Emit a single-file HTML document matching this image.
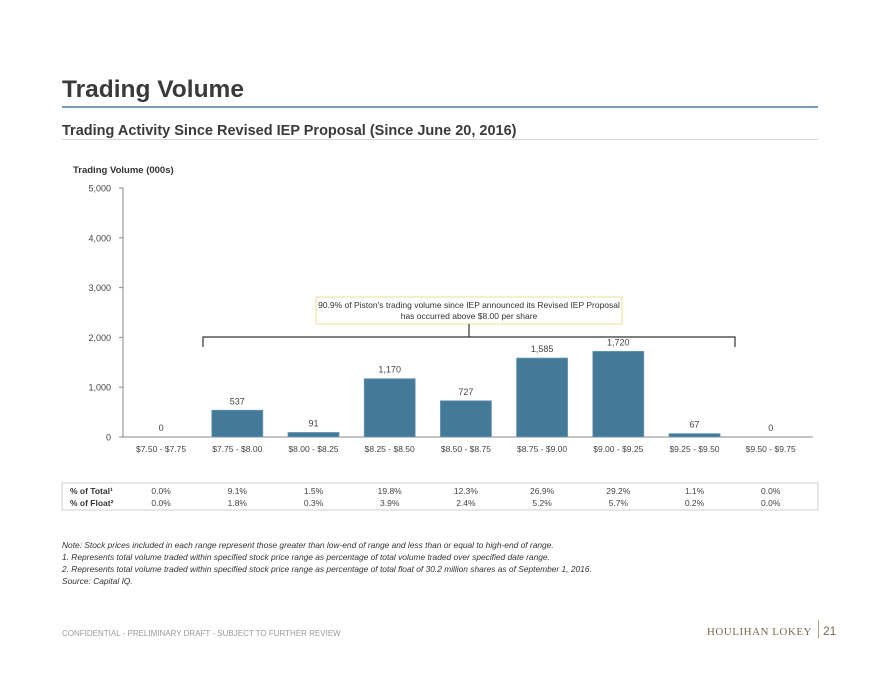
<!DOCTYPE html>
<html><head><meta charset="utf-8"><style>
body{margin:0;width:880px;height:680px;background:#fff;font-family:"Liberation Sans",Arial,sans-serif;overflow:hidden}
svg{position:absolute;left:0;top:0}
</style></head><body>
<svg width="880" height="680" xmlns="http://www.w3.org/2000/svg" font-family="Liberation Sans, Arial, sans-serif">
<text x="62" y="97" font-size="24.5" font-weight="bold" fill="#3a3a3a">Trading Volume</text>
<rect x="62" y="106" width="756" height="2" fill="#7d9bb0"/>
<text x="62" y="135" font-size="14.5" font-weight="bold" fill="#3a3a3a">Trading Activity Since Revised IEP Proposal (Since June 20, 2016)</text>
<rect x="62" y="139" width="756" height="1" fill="#d8d8d8"/>
<text x="73" y="173" font-size="9.5" font-weight="bold" fill="#333">Trading Volume (000s)</text>
<g id="chart"></g>
<rect x="316" y="297" width="306" height="27" fill="#fff" stroke="#f0dc96"/>
<text x="469" y="308" font-size="8.5" fill="#333" text-anchor="middle">90.9% of Piston's trading volume since IEP announced its Revised IEP Proposal</text>
<text x="469" y="319" font-size="8.5" fill="#333" text-anchor="middle">has occurred above $8.00 per share</text>
<path d="M203 347V337H735V347M469 337V324" fill="none" stroke="#333" stroke-width="1.2"/>
<rect x="62" y="483" width="756" height="27" fill="#fff" stroke="#cfcfcf"/>
<text x="70" y="494" font-size="8.5" font-weight="bold" fill="#333">% of Total¹</text>
<text x="70" y="506" font-size="8.5" font-weight="bold" fill="#333">% of Float²</text>
<g id="tbl"></g>
<g font-size="8.4" font-style="italic" fill="#333">
<text x="62" y="548">Note: Stock prices included in each range represent those greater than low-end of range and less than or equal to high-end of range.</text>
<text x="62" y="560">1. Represents total volume traded within specified stock price range as percentage of total volume traded over specified date range.</text>
<text x="62" y="572">2. Represents total volume traded within specified stock price range as percentage of total float of 30.2 million shares as of September 1, 2016.</text>
<text x="62" y="584">Source: Capital IQ.</text>
</g>
<text x="62" y="636" font-size="8" fill="#9a9a9a">CONFIDENTIAL - PRELIMINARY DRAFT - SUBJECT TO FURTHER REVIEW</text>
<text x="812" y="635" font-size="11" font-family="Liberation Serif, serif" fill="#7a6a50" text-anchor="end" letter-spacing="0.5">HOULIHAN LOKEY</text>
<rect x="818" y="620" width="1" height="18" fill="#b0a080"/>
<text x="823" y="635" font-size="12" fill="#7a6a50">21</text>
</svg>
<script>
const categories=["$7.50 - $7.75","$7.75 - $8.00","$8.00 - $8.25","$8.25 - $8.50","$8.50 - $8.75","$8.75 - $9.00","$9.00 - $9.25","$9.25 - $9.50","$9.50 - $9.75"];
const volumes=[0,537,91,1170,727,1585,1720,67,0];
const pctTotal=["0.0%","9.1%","1.5%","19.8%","12.3%","26.9%","29.2%","1.1%","0.0%"];
const pctFloat=["0.0%","1.8%","0.3%","3.9%","2.4%","5.2%","5.7%","0.2%","0.0%"];
const yTicks=[0,1000,2000,3000,4000,5000];
const NS="http://www.w3.org/2000/svg";
const x0=123,band=76.2,y0=437,yMax=5000,yTop=188;
const yS=v=>y0-(v/yMax)*(y0-yTop);
const xC=i=>x0+band*(i+0.5);
const g=document.getElementById('chart'),tb=document.getElementById('tbl');
function mk(tag,a,parent){const e=document.createElementNS(NS,tag);for(const k in a)e.setAttribute(k,a[k]);(parent||g).appendChild(e);return e;}
let ax=mk('path',{d:`M${x0-2} ${yTop}H${x0}V${y0}H${x0+band*9+4}`,fill:'none',stroke:'#888','stroke-width':1});


yTicks.forEach(t=>{
 const tl=mk('line',{x1:x0-4,x2:x0,y1:yS(t),y2:yS(t),stroke:'#888'});
 
 
 const tx=mk('text',{x:x0-12,y:yS(t)+3.5,'font-size':9,fill:'#444','text-anchor':'end'});
 tx.textContent=t.toLocaleString('en-US');
 
 
});
categories.forEach((c,i)=>{
 const cx=xC(i),w=51,v=volumes[i];
 if(v>0){const b=mk('rect',{x:cx-w/2,y:yS(v),width:w,height:y0-yS(v),fill:'#437a99',stroke:'#6f9ab3','stroke-width':0.8});
 
 }
 const vl=mk('text',{x:cx,y:yS(v)-6,'font-size':9,fill:'#444','text-anchor':'middle'});
 vl.textContent=v.toLocaleString('en-US');
 
 
 const cl=mk('text',{x:cx,y:452,'font-size':8.5,fill:'#444','text-anchor':'middle'});
 cl.textContent=c;
 
 
 const t1=mk('text',{x:cx,y:494,'font-size':8.5,fill:'#444','text-anchor':'middle'},tb);
 t1.textContent=pctTotal[i];
 
 
 const t2=mk('text',{x:cx,y:506,'font-size':8.5,fill:'#444','text-anchor':'middle'},tb);
 t2.textContent=pctFloat[i];
 
 
});
</script>
</body></html>
